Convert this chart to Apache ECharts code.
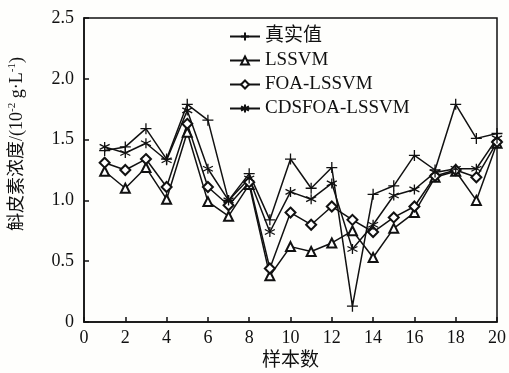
<!DOCTYPE html>
<html>
<head>
<meta charset="utf-8">
<script src="https://cdn.jsdelivr.net/npm/echarts@6/dist/echarts.min.js"></script>
<style>
	html, body { margin: 0; padding: 0; background: #fefefc; }
	#chart { width: 509px; height: 373px; }
</style>
</head>
<body>
<div id="chart"></div>
<script>
// 样本序号
var samples = [1, 2, 3, 4, 5, 6, 7, 8, 9, 10, 11, 12, 13, 14, 15, 16, 17, 18, 19, 20]
// 真实值
var trueVals = [1.41, 1.44, 1.59, 1.34, 1.79, 1.66, 1.00, 1.22, 0.84, 1.34, 1.10, 1.27, 0.13, 1.05, 1.12, 1.37, 1.25, 1.79, 1.51, 1.55]
// LSSVM
var lssvmVals = [1.24, 1.10, 1.27, 1.01, 1.56, 0.99, 0.87, 1.13, 0.38, 0.62, 0.58, 0.65, 0.75, 0.53, 0.77, 0.90, 1.19, 1.24, 1.00, 1.47]
// FOA-LSSVM
var foaVals = [1.31, 1.25, 1.34, 1.11, 1.63, 1.11, 0.96, 1.15, 0.44, 0.90, 0.80, 0.95, 0.84, 0.74, 0.86, 0.95, 1.20, 1.25, 1.19, 1.48]
// CDSFOA-LSSVM
var cdsfoaVals = [1.44, 1.39, 1.47, 1.33, 1.74, 1.26, 1.00, 1.18, 0.74, 1.07, 1.01, 1.14, 0.60, 0.80, 1.04, 1.09, 1.23, 1.26, 1.26, 1.51]

var serif = '"Liberation Serif", "DejaVu Serif", "Noto Sans CJK SC", serif'

function pairs(vals) {
	return samples.map(function(s, i) { return [s, vals[i]] })
}

function makeSeries(name, vals, symbol, size) {
	return {
		name: name,
		type: 'line',
		data: pairs(vals),
		symbol: symbol,
		symbolSize: size,
		showSymbol: true,
		lineStyle: { color: '#111', width: 1.5 },
		itemStyle: { color: '#111', borderColor: '#111', borderWidth: 1.3 },
		emphasis: { disabled: true }
	}
}

var chart = echarts.init(document.getElementById('chart'))
var option = {
	backgroundColor: '#fefefc',
	animation: false,
	grid: {
		left: 84,
		right: 12,
		top: 18,
		bottom: 51,
		containLabel: false,
		outerBoundsMode: 'none',
		show: true,
		borderColor: '#111',
		borderWidth: 1.5
	},
	legend: {
		orient: 'vertical',
		left: 224,
		top: 22,
		itemWidth: 30,
		itemHeight: 10,
		itemGap: 5,
		textStyle: { fontFamily: serif, fontSize: 19, color: '#111' },
		data: ['真实值', 'LSSVM', 'FOA-LSSVM', 'CDSFOA-LSSVM']
	},
	xAxis: {
		type: 'value',
		min: 0,
		max: 20,
		interval: 2,
		name: '样本数',
		nameLocation: 'middle',
		nameGap: 29,
		nameTextStyle: { fontFamily: serif, fontSize: 19, color: '#111' },
		axisLine: { lineStyle: { color: '#111', width: 1.5 } },
		axisTick: { inside: true, length: 5, lineStyle: { color: '#111', width: 1.5 } },
		axisLabel: { fontFamily: serif, fontSize: 18, color: '#111', margin: 7 },
		splitLine: { show: false }
	},
	yAxis: {
		type: 'value',
		min: 0,
		max: 2.5,
		interval: 0.5,
		axisLine: { lineStyle: { color: '#111', width: 1.5 } },
		axisTick: { inside: true, length: 5, lineStyle: { color: '#111', width: 1.5 } },
		axisLabel: {
			fontFamily: serif,
			fontSize: 18,
			color: '#111',
			margin: 10,
			formatter: function(v) { return v === 0 ? '0' : v.toFixed(1) }
		},
		splitLine: { show: false }
	},
	graphic: [
		{
			type: 'text',
			x: 17,
			y: 144,
			rotation: Math.PI / 2,
			style: {
				text: '{a|斛皮素浓度/(10}{s|-2}{a| g·L}{s|-1}{a|)}',
				fontFamily: serif,
				fill: '#111',
				align: 'center',
				verticalAlign: 'middle',
				rich: {
					a: { fontFamily: serif, fontSize: 18, lineHeight: 20, fill: '#111' },
					s: { fontFamily: serif, fontSize: 11, lineHeight: 20, verticalAlign: 'top', fill: '#111' }
				}
			}
		}
	],
	series: [
		makeSeries('真实值', trueVals, 'path://M5,0L5,10M0,5L10,5', 11),
		makeSeries('LSSVM', lssvmVals, 'emptyTriangle', 9),
		makeSeries('FOA-LSSVM', foaVals, 'emptyDiamond', 10),
		makeSeries('CDSFOA-LSSVM', cdsfoaVals, 'path://M5,0L5,10M0.7,2.5L9.3,7.5M0.7,7.5L9.3,2.5', 10)
	]
}
chart.setOption(option)
</script>
</body>
</html>
